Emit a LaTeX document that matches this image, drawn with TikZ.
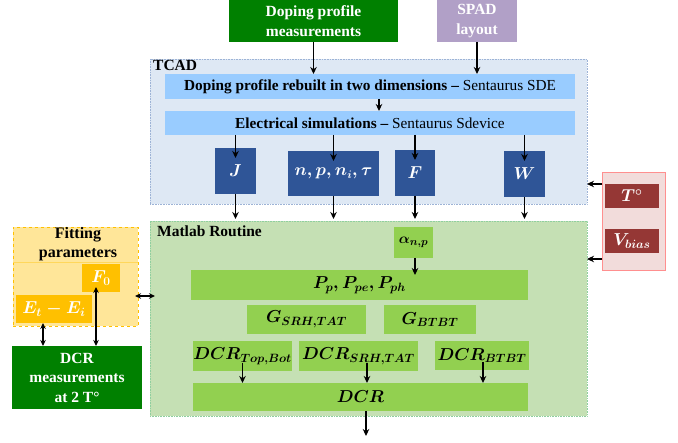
\documentclass[tikz,border=0pt]{standalone}
\usepackage{fontspec}
\setmainfont{Liberation Serif}
\usetikzlibrary{arrows.meta,calc}
\definecolor{dgreen}{HTML}{008000}
\definecolor{lav}{HTML}{B1A0C7}
\definecolor{tcadfill}{HTML}{DEE8F4}
\definecolor{tcadline}{HTML}{9DB3D6}
\definecolor{barblue}{HTML}{99CCFF}
\definecolor{navy}{HTML}{2F5597}
\definecolor{mfill}{HTML}{C5E0B4}
\definecolor{mline}{HTML}{8FCF9F}
\definecolor{lime}{HTML}{92D050}
\definecolor{rfill}{HTML}{F2DCDB}
\definecolor{rline}{HTML}{FF8F8F}
\definecolor{dred}{HTML}{953735}
\definecolor{ffill}{HTML}{FFE699}
\definecolor{orng}{HTML}{FFC000}
\tikzset{
  box/.style={inner sep=0pt, outer sep=0pt, align=center},
  arr/.style={line width=1.3pt, -{Stealth[length=7pt,width=6.5pt]}},
  darr/.style={line width=1.2pt, {Stealth[length=6pt,width=5.5pt]}-{Stealth[length=6pt,width=5.5pt]}},
  inmeas/.style={box, fill=dgreen, text=white, font=\fontsize{15.5}{19.5}\selectfont\bfseries},
  tbar/.style={box, fill=barblue, font=\fontsize{15.3}{17}\selectfont},
  nbox/.style={box, fill=navy, text=white, font=\fontsize{16}{18}\selectfont\boldmath},
  gbox/.style={box, fill=lime, font=\fontsize{17}{19}\selectfont\boldmath},
  obox/.style={box, fill=orng, text=white, font=\fontsize{17}{19}\selectfont\boldmath},
  rbox/.style={box, fill=dred, text=white, font=\fontsize{17}{19}\selectfont\boldmath},
  lbl/.style={inner sep=0pt, anchor=north west, font=\fontsize{15.5}{17}\selectfont\bfseries},
}
\begin{document}
\begin{tikzpicture}[x=1pt,y=-1pt]
\useasboundingbox (0,0) rectangle (678,443);
% containers
\node[box, fill=tcadfill, draw=tcadline, densely dotted, line width=0.6pt, minimum width=437, minimum height=145] (tcad) at (368.5,131.5) {};
\node[box, fill=mfill, draw=mline, densely dotted, line width=0.6pt, minimum width=437, minimum height=195] (mat) at (368.5,318.5) {};
\node[box, fill=rfill, draw=rline, line width=0.8pt, minimum width=63, minimum height=98] (red) at (633.5,221) {};
\node[box, fill=ffill, draw=orng, dashed, line width=0.7pt, minimum width=125, minimum height=99] (fit) at (75.5,276.5) {};
\draw[orng!40!ffill, line width=0.8pt] (fit.west |- 0,262) -- (fit.east |- 0,262);
% labels
\node[lbl] (tcadl) at (153,60) {TCAD};
\node[lbl] (matl) at (157,226) {Matlab Routine};
\node[box, font=\fontsize{16}{18.5}\selectfont\bfseries] (fitl) at (78,244) {Fitting\\parameters};
% inputs
\node[inmeas, minimum width=169, minimum height=42] (dop) at (313.5,21) {Doping profile\\measurements};
\node[inmeas, fill=lav, minimum width=80, minimum height=42] (spad) at (477,21) {SPAD\\layout};
% TCAD bars
\node[tbar, minimum width=410, minimum height=25] (reb) at (370,86.5) {\textbf{Doping profile rebuilt in two dimensions –} Sentaurus SDE};
\node[tbar, minimum width=410, minimum height=24] (ele) at (370,123) {\textbf{Electrical simulations –} Sentaurus Sdevice};
% TCAD outputs
\node[nbox, minimum width=41, minimum height=46] (J) at (235.5,171) {$J$};
\node[nbox, minimum width=91, minimum height=45] (np) at (333.5,173.5) {$n,p,n_i,\tau$};
\node[nbox, minimum width=40, minimum height=46] (F) at (415,173) {$F$};
\node[nbox, minimum width=41, minimum height=46] (W) at (524.5,174) {$W$};
% red inputs
\node[rbox, minimum width=54, minimum height=24] (T) at (632,196) {$T^{\circ}$};
\node[rbox, minimum width=54, minimum height=24] (V) at (632,241) {$V_{bias}$};
% matlab boxes
\node[gbox, font=\fontsize{15.5}{18}\selectfont\boldmath, minimum width=39, minimum height=31] (al) at (413.5,242.5) {$\alpha_{n,p}$};
\node[gbox, minimum width=337, minimum height=30] (P) at (359.5,285) {$P_p, P_{pe}, P_{ph}$};
\node[gbox, minimum width=119, minimum height=29] (gs) at (306.5,319.5) {$G_{SRH,TAT}$};
\node[gbox, minimum width=92, minimum height=29] (gb) at (430,319.5) {$G_{BTBT}$};
\node[gbox, font=\fontsize{16.5}{19}\selectfont\boldmath, minimum width=99, minimum height=30] (dtb) at (242.5,356) {$DCR_{Top,Bot}$};
\node[gbox, font=\fontsize{16.5}{19}\selectfont\boldmath, minimum width=119, minimum height=30] (dsr) at (358.5,356) {$DCR_{SRH,TAT}$};
\node[gbox, font=\fontsize{16.5}{19}\selectfont\boldmath, minimum width=94, minimum height=29] (dbt) at (482,355.5) {$DCR_{BTBT}$};
\node[gbox, minimum width=335, minimum height=28] (dcr) at (360.5,397) {$DCR$};
\coordinate (out) at (366,436);
% fitting
\node[obox, minimum width=38, minimum height=28] (F0) at (101,278) {$F_0$};
\node[obox, minimum width=76, minimum height=28] (Et) at (54,309) {$E_t-E_i$};
\node[inmeas, minimum width=130, minimum height=63] (dm) at (77,377.5) {DCR\\measurements\\at 2 T°};
\coordinate (mw) at ([xshift=8]mat.west);
% arrows
\draw[arr] (dop.south) -- (dop.south |- reb.north);
\draw[arr] (spad.south) -- (spad.south |- reb.north);
\draw[arr] ([xshift=9]reb.south) -- ([xshift=9]ele.north);
\foreach \n in {J,np,F,W}{
  \draw[arr] (\n.north |- ele.south) -- ([yshift=-10]\n.north);
  \draw[arr] (\n.south) -- ([yshift=2]\n.south |- mat.north);
}
\draw[arr] ([yshift=-12]red.north west) -- ([yshift=-12]red.north west -| tcad.east);
\draw[arr] ([yshift=11]red.south west) -- ([yshift=11]red.south west -| mat.east);
\draw[arr] ([xshift=1.5]al.south) -- ([xshift=1.5,yshift=-5]al.south |- P.north);
\draw[arr] ([yshift=8]dtb.south) -- (dtb.south |- dcr.north);
\draw[arr] ([xshift=8.5,yshift=8]dsr.south) -- ([xshift=8.5]dsr.south |- dcr.north);
\draw[arr] ([xshift=1,yshift=8]dbt.south) -- ([xshift=1]dbt.south |- dcr.north);
\draw[arr] ([xshift=5.5]dcr.south) -- (out);
\draw[darr] ([xshift=-11]Et.south) -- ([xshift=-11]Et.south |- dm.north);
\draw[darr] ([xshift=-5,yshift=5]F0.south) -- ([xshift=-5]F0.south |- dm.north);
\draw[darr] ([xshift=-3,yshift=-19.5]fit.east) -- ([xshift=-3,yshift=-19.5]fit.east -| mw);
\end{tikzpicture}
\end{document}
